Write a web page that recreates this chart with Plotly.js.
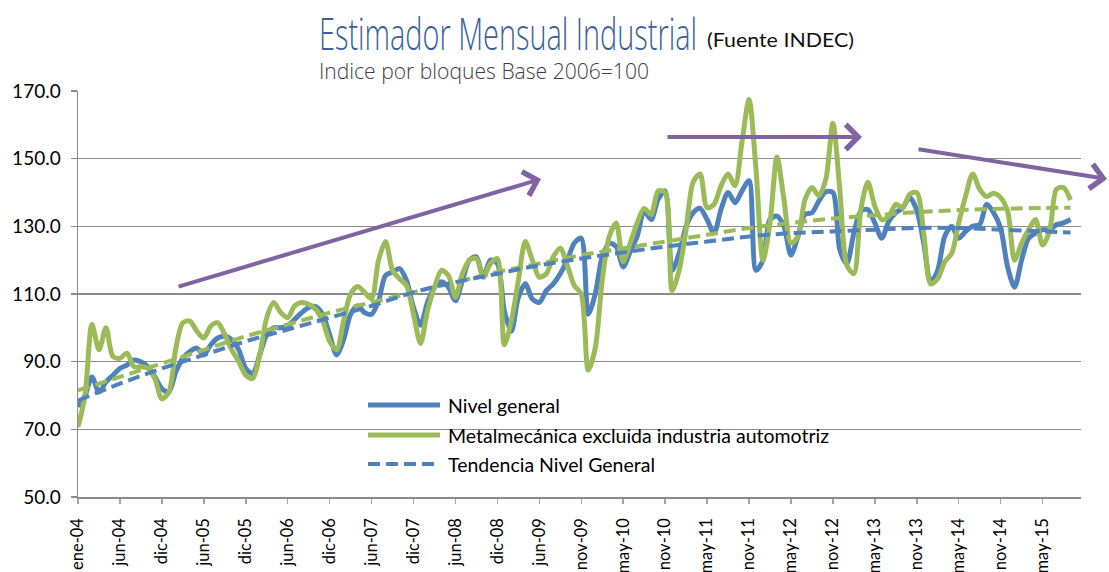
<!DOCTYPE html>
<html>
<head>
<meta charset="utf-8">
<script src="https://cdn.plot.ly/plotly-3.0.1.min.js"></script>
<style>html,body{margin:0;padding:0;background:#fff;}#chart{width:1109px;height:572px;}</style>
</head>
<body>
<div id="chart"></div>
<script>
// Monthly index series (category positions 0..142)
const nivelGeneral = [
  76.7, 80, 85.5, 81, 84, 86, 88, 89, 90.5, 90,
  88.5, 85.5, 82, 81, 87, 91, 93, 94, 92, 95,
  97, 97.5, 96.5, 93.5, 88, 86.5, 92, 98, 100, 100,
  100.5, 102.5, 104.5, 106, 106.3, 104, 98, 92, 96.5, 104,
  106.5, 104.5, 104, 108, 115.5, 116.5, 117.5, 114, 106, 100.8,
  107.5, 112, 113.6, 112, 108, 114, 120, 121, 115, 120,
  119, 105, 99, 109, 113, 108.5, 107.5, 111, 113, 116,
  120, 125, 126.5, 104, 110, 121, 125, 124, 118, 122.5,
  127, 134.5, 132, 138, 140.5, 117, 122, 130, 134, 135.3,
  132, 128, 135, 140, 137, 140.5, 143.5, 117, 120, 132,
  133, 130, 121.5, 127, 133.5, 134, 137.5, 140.2, 140, 123,
  119, 128, 134.5, 135, 131, 126.5, 131.5, 134, 135.5, 138.5,
  134.8, 125, 113.5, 117, 127, 130, 126.5, 128.5, 130, 130.5,
  136.5, 134, 129.5, 118, 112, 120, 126.5, 128, 129, 129,
  130.5, 131, 132
];
const metalmecanica = [
  70.7, 80, 101, 93.5, 100, 91.5, 91, 92.5, 88.5, 88.5,
  88, 85, 79, 81, 94, 101.5, 102, 99, 97, 100.5,
  101.5, 98, 93.5, 90, 86, 85, 92, 103, 107.5, 104.5,
  103, 106.5, 107.5, 107, 105.5, 102, 96, 93.5, 102, 110,
  112.2, 110.5, 108.6, 120, 125.5, 117, 114.5, 112.5, 104, 95.4,
  105, 112, 117, 115.5, 109, 116, 120, 120.5, 115, 119,
  120.5, 95, 102, 114, 125.5, 120, 115, 116, 121, 123.5,
  118.5, 112.5, 110, 87.5, 94, 114, 127, 131, 119.5, 125,
  131, 135.3, 133.5, 140.5, 140, 111, 117, 129, 143, 145.5,
  135.5, 136.5, 142, 145.5, 142, 155, 167.5, 147, 120, 130.9,
  150.5, 138, 125, 127, 137.8, 141.5, 139, 144, 160.5, 140.7,
  118.5, 116, 135, 143, 136, 132, 133, 136.5, 135.5, 139.5,
  140, 128, 113, 114.5, 119.5, 122, 131, 139, 145.5, 141,
  138.8, 139.8, 138.5, 134.5, 120, 125, 129, 132, 124.5, 128.5,
  141, 141.5, 137.8
];
// Trend lines read every 6 months
const trendIdx = [0,6,12,18,24,30,36,42,48,54,60,66,72,78,84,90,96,102,108,114,120,126,132,138,142];
const tendenciaNivel = [78.5,83.5,88,92,96,99.5,103,106.5,110.5,113.5,116,118.5,120.5,122.3,124,125.5,127,128,128.5,129,129.5,129.5,129,128.5,128.2];
const tendenciaMetal = [81.5,85.5,89.5,93.5,97.5,101,104.5,107.5,110.5,113.5,116.5,119,121.5,123.5,125.5,127.5,129.5,131,132.3,133.3,134.2,134.8,135.2,135.4,135.5];
// Axis tick labels
const tickIdx = [0,6,12,18,24,30,36,42,48,54,60,66,72,78,84,90,96,102,108,114,120,126,132,138];
const tickLabels = ['ene-04','jun-04','dic-04','jun-05','dic-05','jun-06','dic-06','jun-07','dic-07','jun-08','dic-08','jun-09','nov-09','may-10','nov-10','may-11','nov-11','may-12','nov-12','may-13','nov-13','may-14','nov-14','may-15'];
const yTicks = [50,70,90,110,130,150,170];
const legendNames = ['Nivel general','Metalmecánica excluida industria automotriz','Tendencia Nivel General'];
const titleText = 'Estimador Mensual Industrial';
const sourceText = '(Fuente INDEC)';
const subtitleText = 'Indice por bloques Base 2006=100';

const months = nivelGeneral.map((_, i) => i);
const BLUE = '#4F81BD', GREEN = '#9BBB59', PURPLE = '#8064A2', GRID = '#8C8C8C';
const FONT = 'Lato, "Open Sans", sans-serif';
const LIGHT = '"Open Sans", Lato, sans-serif';

// layout geometry in pixels
const L = 78, R = 1081, T = 91, B = 497;
const px = X => (X - L) / (R - L);
const py = Y => (B - Y) / (B - T);

const traces = [
  {x: months, y: nivelGeneral, type: 'scatter', mode: 'lines', line: {color: BLUE, width: 5, shape: 'spline', smoothing: 0.8}},
  {x: months, y: metalmecanica, type: 'scatter', mode: 'lines', line: {color: GREEN, width: 5, shape: 'spline', smoothing: 0.8}},
  {x: trendIdx, y: tendenciaMetal, type: 'scatter', mode: 'lines', line: {color: GREEN, width: 4, dash: '12px,6px', shape: 'spline'}},
  {x: trendIdx, y: tendenciaNivel, type: 'scatter', mode: 'lines', line: {color: BLUE, width: 4, dash: '12px,6px', shape: 'spline'}}
];

const legendY = [405, 435, 464];
const shapes = [
  {type: 'line', xref: 'paper', yref: 'paper', x0: px(368), x1: px(440), y0: py(legendY[0]), y1: py(legendY[0]), line: {color: BLUE, width: 5}},
  {type: 'line', xref: 'paper', yref: 'paper', x0: px(368), x1: px(440), y0: py(legendY[1]), y1: py(legendY[1]), line: {color: GREEN, width: 5}},
  {type: 'line', xref: 'paper', yref: 'paper', x0: px(368), x1: px(440), y0: py(legendY[2]), y1: py(legendY[2]), line: {color: BLUE, width: 4, dash: '12px,6px'}}
];

const annotations = [
  {xref: 'paper', yref: 'paper', x: px(317), y: py(33), xanchor: 'left', yanchor: 'middle', align: 'left', showarrow: false,
   text: titleText, font: {family: LIGHT, size: 44, color: '#3A5F9A', weight: 300}},
  {xref: 'paper', yref: 'paper', x: px(705), y: py(39), xanchor: 'left', yanchor: 'middle', align: 'left', showarrow: false,
   text: sourceText, font: {family: FONT, size: 20, color: '#111'}},
  {xref: 'paper', yref: 'paper', x: px(317), y: py(70), xanchor: 'left', yanchor: 'middle', align: 'left', showarrow: false,
   text: subtitleText, font: {family: LIGHT, size: 22, color: '#404040', weight: 300}},
  // arrows
  {xref: 'paper', yref: 'paper', x: px(541), y: py(179), ax: 177 - 541, ay: 287 - 179, showarrow: true, arrowhead: 4, arrowsize: 1.2, arrowwidth: 4, arrowcolor: PURPLE, text: ''},
  {xref: 'paper', yref: 'paper', x: px(862), y: py(137), ax: 666 - 862, ay: 0, showarrow: true, arrowhead: 4, arrowsize: 1.2, arrowwidth: 4, arrowcolor: PURPLE, text: ''},
  {xref: 'paper', yref: 'paper', x: px(1107), y: py(179), ax: 917 - 1107, ay: 149 - 179, showarrow: true, arrowhead: 4, arrowsize: 1.2, arrowwidth: 4, arrowcolor: PURPLE, text: ''}
];
legendNames.forEach((n, k) => annotations.push({
  xref: 'paper', yref: 'paper', x: px(446), y: py(legendY[k]), xanchor: 'left', yanchor: 'middle', align: 'left', showarrow: false,
  text: n, font: {family: FONT, size: 19.5, color: '#000'}
}));

const layout = {
  width: 1109, height: 572,
  margin: {l: L, r: 1109 - R, t: T, b: 572 - B, pad: 0},
  paper_bgcolor: '#fff', plot_bgcolor: '#fff',
  showlegend: false,
  xaxis: {
    range: [0, 143.5], tickmode: 'array', tickvals: tickIdx, ticktext: tickLabels, tickangle: -90,
    showgrid: false, zeroline: false, showline: true, linecolor: GRID, linewidth: 1.5,
    ticks: 'outside', ticklen: 5, tickcolor: '#A6A6A6', tickwidth: 1.5, ticklabelstandoff: 8,
    tickfont: {family: FONT, size: 16.5, color: '#000'}
  },
  yaxis: {
    range: [50, 170], tickmode: 'array', tickvals: yTicks, tickformat: '.1f',
    showgrid: true, gridcolor: GRID, gridwidth: 1.5, zeroline: false,
    showline: true, linecolor: GRID, linewidth: 1.5,
    ticks: 'outside', ticklen: 6, tickcolor: GRID, tickwidth: 1.5, ticklabelstandoff: 6,
    tickfont: {family: FONT, size: 19, color: '#000'}
  },
  shapes: shapes,
  annotations: annotations
};

// widths of the heading texts in the reference (pixels)
const textWidths = {};
textWidths[titleText] = 378;
textWidths[sourceText] = 147;
textWidths[subtitleText] = 330;

Plotly.newPlot('chart', traces, layout, {staticPlot: true, displayModeBar: false}).then(gd => {
  gd.querySelectorAll('text.annotation-text').forEach(t => {
    const w = textWidths[t.textContent];
    if (w) {
      t.setAttribute('textLength', w);
      t.setAttribute('lengthAdjust', 'spacingAndGlyphs');
    }
  });
});
</script>
</body>
</html>
